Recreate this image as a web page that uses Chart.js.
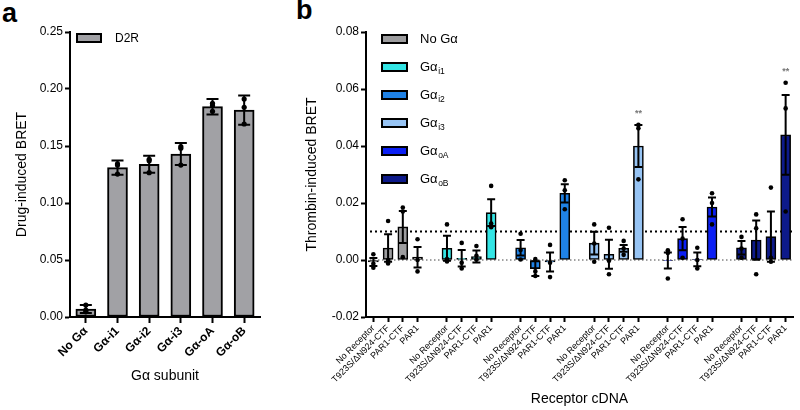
<!DOCTYPE html>
<html><head><meta charset="utf-8">
<script src="https://cdn.jsdelivr.net/npm/chart.js@4"></script>
<style>
html,body{margin:0;padding:0;background:#fff;width:800px;height:410px;overflow:hidden;}
#ca{position:absolute;left:0;top:0;}
#cb{position:absolute;left:290px;top:0;}
.lab{position:absolute;font:bold 27px "Liberation Sans",Arial,sans-serif;line-height:27px;color:#000;}
</style></head><body>
<div class="lab" style="left:2px;top:0px">a</div>
<div class="lab" style="left:296px;top:-3px">b</div>
<canvas id="ca" width="290" height="410"></canvas>
<canvas id="cb" width="510" height="410"></canvas>
<script>
const FONT = '"Liberation Sans", Arial, Helvetica, sans-serif';

// ---------- Panel a data ----------
const aLabels = ['No Gα','Gα-i1','Gα-i2','Gα-i3','Gα-oA','Gα-oB'];
const aMeans  = [0.0070,0.1310,0.1340,0.1430,0.1845,0.1815];
const aSem    = [0.0036,0.0062,0.0074,0.0097,0.0068,0.0128];
const aRep1   = [0.0105,0.1333,0.1383,0.1480,0.1855,0.1840];
const aRep2   = [0.0060,0.1254,0.1370,0.1495,0.1875,0.1693];
const aRep3   = [0.0045,0.1343,0.1266,0.1333,0.1805,0.1912];
const aLegend = 'D2R';
const aTicks  = {min:0, max:0.25, step:0.05};

// ---------- Panel b data ----------
const bReceptors = ['No Receptor','T923S/ΔN924-CTF','PAR1-CTF','PAR1'];
const bGroupBase = ['No Gα','Gα','Gα','Gα','Gα','Gα'];
const bGroupSub  = ['','i1','i2','i3','oA','oB'];
const bMeans = [
  [-0.0007, 0.0042, 0.0116, 0.0010],
  [ 0.0041, 0.0006, 0.0012, 0.0166],
  [ 0.0043,-0.0030,-0.0007, 0.0234],
  [ 0.0059, 0.0020, 0.0041, 0.0400],
  [-0.0002, 0.0075, 0.0002, 0.0186],
  [ 0.0043, 0.0070, 0.0082, 0.0439]
];
const bSem = [
  [0.0014, 0.0048, 0.0056, 0.0036],
  [0.0044, 0.0029, 0.0021, 0.0047],
  [0.0027, 0.0026, 0.0033, 0.0032],
  [0.0040, 0.0051, 0.0012, 0.0074],
  [0.0028, 0.0041, 0.0024, 0.0033],
  [0.0024, 0.0069, 0.0088, 0.0140]
];
const bPoints = [
  [[0.0020,-0.0027,-0.0013],[0.0137,0.0000,-0.0012],[0.0184,0.0170,0.0010],[0.0073,-0.0040,0.0000]],
  [[0.0125,0.0003,-0.0005],[0.0060,-0.0030,-0.0010],[0.0049,0.0015,0.0002],[0.0260,0.0128,0.0115]],
  [[0.0092,0.0002,0.0035],[0.0003,-0.0056,-0.0040],[0.0053,-0.0010,-0.0060],[0.0280,0.0245,0.0178]],
  [[0.0125,-0.0006,0.0058],[0.0113,-0.0050,-0.0003],[0.0067,0.0040,0.0018],[0.0474,0.0462,0.0283]],
  [[0.0034,0.0025,-0.0065],[0.0143,0.0008,0.0075],[0.0043,0.0000,-0.0030],[0.0234,0.0200,0.0125]],
  [[0.0081,0.0040,0.0008],[0.0160,0.0111,-0.0050],[0.0254,0.0008,-0.0006],[0.0622,0.0532,0.0170]]
];
const bStars = [
  ['','','',''],['','','',''],['','','',''],
  ['','','','**'],['','','',''],['','','','**']
];
const bThreshold = 0.01;
const bTicks = {min:-0.02, max:0.08, step:0.02};

// ---------- styles ----------
const aColor = '#a1a1a5';
const bColors = ['#9d9d9f','#33e5e5','#1f82e6','#97c4f4','#0b1ff4','#0d1a8a'];

// ---------- build panel b flat arrays (blank slot between groups) ----------
const bLabels = [], bFlatMeans = [], bFlatSem = [], bFlatColors = [], bFlatStars = [];
const bFlatReps = [[],[],[]];
bMeans.forEach((grp, g) => {
  grp.forEach((m, r) => {
    bLabels.push(bReceptors[r]);
    bFlatMeans.push(m);
    bFlatSem.push(bSem[g][r]);
    bFlatColors.push(bColors[g]);
    bFlatStars.push(bStars[g][r]);
    for (let k=0;k<3;k++) bFlatReps[k].push(bPoints[g][r][k]);
  });
  if (g < bMeans.length-1) {
    bLabels.push('');
    bFlatMeans.push(null); bFlatSem.push(null); bFlatColors.push('transparent'); bFlatStars.push('');
    for (let k=0;k<3;k++) bFlatReps[k].push(null);
  }
});

function errPlugin(means, sems, cap, lw){
  return {
    id:'errbars',
    afterDatasetsDraw(chart){
      const ctx = chart.ctx, ys = chart.scales.y;
      const meta = chart.getDatasetMeta(0);
      ctx.save();
      ctx.strokeStyle = '#000'; ctx.lineWidth = lw; ctx.lineCap = 'butt';
      meta.data.forEach((el,i)=>{
        const m = means[i]; if (m === null || m === undefined) return;
        const x = el.x;
        const yt = ys.getPixelForValue(m + sems[i]);
        const yb = ys.getPixelForValue(m - sems[i]);
        ctx.beginPath();
        ctx.moveTo(x, yt); ctx.lineTo(x, yb);
        ctx.moveTo(x-cap, yt); ctx.lineTo(x+cap, yt);
        ctx.moveTo(x-cap, yb); ctx.lineTo(x+cap, yb);
        ctx.stroke();
      });
      ctx.restore();
    }
  };
}

function commonScales(o){
  return {
    x: {
      type:'category', offset:true,
      grid:{display:true, drawOnChartArea:false, offset:false, tickLength:o.xTickLen, tickWidth:o.lw,
            tickColor:(c)=> (o.labels[c.index] ? '#000' : 'rgba(0,0,0,0)')},
      border:{display:true, color:'#000', width:o.lw},
      ticks:{color:'#000', font:{family:FONT, size:o.xFont, weight:o.xWeight}, minRotation:45, maxRotation:45, autoSkip:false, padding:1},
      title:{display:true, text:o.xTitle, color:'#000', font:{family:FONT, size:14}, padding:{top:0, bottom:o.xTitlePad}},
      afterFit(s){ s.height = o.xHeight; }
    },
    y: {
      min:o.ticks.min, max:o.ticks.max,
      grid:{display:true, drawOnChartArea:false, tickLength:5, tickWidth:o.lw, tickColor:'#000'},
      border:{display:true, color:'#000', width:o.lw},
      ticks:{stepSize:o.ticks.step, color:'#000', font:{family:FONT, size:12}, padding:2,
             callback:(v)=> (Math.abs(v)<1e-9 ? 0 : v).toFixed(2)},
      title:{display:true, text:o.yTitle, color:'#000', font:{family:FONT, size:14}, padding:{top:o.yTitlePad, bottom:0}},
      afterFit(s){ s.width = o.yWidth; }
    }
  };
}

// ---------- Chart a ----------
new Chart(document.getElementById('ca'), {
  type:'bar',
  data:{
    labels:aLabels,
    datasets:[
      {type:'bar', data:aMeans, backgroundColor:aColor, borderColor:'#000', borderWidth:2, borderSkipped:false,
       barThickness:20, order:2},
      ...[aRep1,aRep2,aRep3].map(r=>({type:'line', data:r, showLine:false, pointRadius:2.6, pointBackgroundColor:'#000',
        pointBorderWidth:0, order:1}))
    ]
  },
  options:{
    responsive:false, animation:false, devicePixelRatio:1, events:[],
    layout:{padding:{top:32, right:30, left:0, bottom:0}},
    plugins:{legend:{display:false}, tooltip:{enabled:false}},
    scales: commonScales({labels:aLabels, lw:2, xTickLen:6, xFont:12, xWeight:'bold', xTitle:'Gα subunit', xTitlePad:25,
      xHeight:93, ticks:aTicks, yTitle:'Drug-induced BRET', yTitlePad:14, yWidth:70})
  },
  plugins:[errPlugin(aMeans, aSem, 6, 2), {
    id:'legA',
    afterDraw(chart){
      const ctx = chart.ctx;
      const x = chart.chartArea.left + 7, y = chart.chartArea.top + 2;
      ctx.save();
      ctx.fillStyle = aColor; ctx.fillRect(x, y, 24, 8);
      ctx.strokeStyle = '#000'; ctx.lineWidth = 2; ctx.strokeRect(x, y, 24, 8);
      ctx.fillStyle = '#000'; ctx.font = '12px ' + FONT; ctx.textBaseline = 'middle';
      ctx.fillText(aLegend, x + 38, y + 4.5);
      ctx.restore();
    }
  }]
});

// ---------- Chart b ----------
new Chart(document.getElementById('cb'), {
  type:'bar',
  data:{
    labels:bLabels,
    datasets:[
      {type:'bar', data:bFlatMeans, backgroundColor:bFlatColors, borderColor:'#000', borderWidth:1.6, borderSkipped:false,
       barThickness:10, order:2},
      ...bFlatReps.map(r=>({type:'line', data:r, showLine:false, pointRadius:2.3, pointBackgroundColor:'#000',
        pointBorderWidth:0, order:1}))
    ]
  },
  options:{
    responsive:false, animation:false, devicePixelRatio:1, events:[],
    layout:{padding:{top:32, right:7, left:0, bottom:0}},
    plugins:{legend:{display:false}, tooltip:{enabled:false}},
    scales: commonScales({labels:bLabels, lw:2, xTickLen:5, xFont:9, xWeight:'normal', xTitle:'Receptor cDNA', xTitlePad:2,
      xHeight:93, ticks:bTicks, yTitle:'Thrombin-induced BRET', yTitlePad:14, yWidth:76})
  },
  plugins:[{
    id:'refLines',
    beforeDatasetsDraw(chart){
      const ctx = chart.ctx, ys = chart.scales.y, a = chart.chartArea;
      ctx.save();
      ctx.strokeStyle = '#000';
      let y = ys.getPixelForValue(bThreshold);
      ctx.lineWidth = 2; ctx.setLineDash([2,3]);
      ctx.beginPath(); ctx.moveTo(a.left+4, y); ctx.lineTo(a.right, y); ctx.stroke();
      y = ys.getPixelForValue(0);
      ctx.lineWidth = 1; ctx.strokeStyle = '#444'; ctx.setLineDash([1.5,2.5]);
      ctx.beginPath(); ctx.moveTo(a.left+4, y); ctx.lineTo(a.right, y); ctx.stroke();
      ctx.restore();
    }
  }, errPlugin(bFlatMeans, bFlatSem, 4, 2), {
    id:'stars',
    afterDatasetsDraw(chart){
      const ctx = chart.ctx, ys = chart.scales.y;
      const meta = chart.getDatasetMeta(0);
      ctx.save();
      ctx.fillStyle = '#777'; ctx.font = 'bold 9px ' + FONT; ctx.textAlign = 'center'; ctx.textBaseline = 'middle';
      meta.data.forEach((el,i)=>{
        if (!bFlatStars[i]) return;
        const top = Math.max(bFlatMeans[i] + bFlatSem[i], bFlatReps[0][i], bFlatReps[1][i], bFlatReps[2][i]);
        ctx.fillText(bFlatStars[i], el.x, ys.getPixelForValue(top) - 11);
      });
      ctx.restore();
    }
  }, {
    id:'legB',
    afterDraw(chart){
      const ctx = chart.ctx;
      const x0 = chart.chartArea.left + 16, y0 = chart.chartArea.top + 7;
      ctx.save();
      bColors.forEach((c,g)=>{
        const y = y0 + g*28;
        ctx.fillStyle = c; ctx.fillRect(x0, y-4, 25, 8);
        ctx.strokeStyle = '#000'; ctx.lineWidth = 2; ctx.setLineDash([]); ctx.strokeRect(x0, y-4, 25, 8);
        ctx.fillStyle = '#000'; ctx.textBaseline = 'middle'; ctx.textAlign = 'left';
        ctx.font = '13px ' + FONT;
        const tx = x0 + 38;
        ctx.fillText(bGroupBase[g], tx, y + 0.5);
        if (bGroupSub[g]) {
          const w = ctx.measureText(bGroupBase[g]).width;
          ctx.font = '8.5px ' + FONT;
          ctx.fillText(bGroupSub[g], tx + w + 0.5, y + 5);
        }
      });
      ctx.restore();
    }
  }]
});
</script>
</body></html>
